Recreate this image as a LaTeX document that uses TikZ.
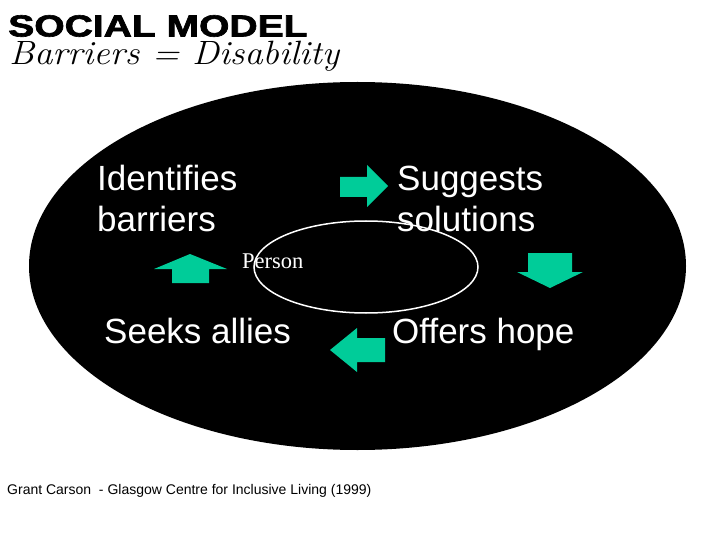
\documentclass[tikz,border=0pt]{standalone}
\usepackage{fontspec}
\setmainfont{Latin Modern Roman}
\newfontfamily\arialf{Liberation Sans}
\newfontfamily\heavyf[FakeBold=2]{Liberation Sans Bold}
\newfontfamily\timesf{Liberation Serif}
\definecolor{arrowgreen}{HTML}{00CC99}
\tikzset{
  lbl/.style={inner sep=0pt, anchor=base west, text=white, font=\arialf\fontsize{35}{40}\selectfont},
  garrow/.style={fill=arrowgreen, draw=none},
}
\begin{document}
\begin{tikzpicture}[x=1pt,y=-1pt]
\useasboundingbox[fill=white] (0,0) rectangle (720,540);
% title
\node[inner sep=0pt, anchor=base west, xscale=1.28, text depth=0pt, font=\heavyf\fontsize{30.5}{32}\selectfont] (title) at (8,36.5) {SOCIAL MODEL};
\node[inner sep=0pt, anchor=base west, xscale=1.08, text height=22pt, font=\itshape\fontsize{33.7}{36}\selectfont] (subtitle) at (9,64.5) {Barriers = Disability};
% big ellipse
\fill[black] (357.5,266) ellipse [x radius=328.5, y radius=184];
% inner ellipse
\draw[white, line width=1.5pt] (366,267) ellipse [x radius=112, y radius=46];
% labels
\node[lbl] (ident1) at (97,191) {Identifies};
\node[lbl] (ident2) at (97,231) {barriers};
\node[lbl] (sugg1) at (397,191) {Suggests};
\node[lbl] (sugg2) at (397,231) {solutions};
\node[lbl] (seeks) at (104,343) {Seeks allies};
\node[lbl] (offers) at (392,343) {Offers hope};
\node[inner sep=0pt, anchor=base west, text=white, font=\timesf\fontsize{22.5}{24}\selectfont] (person) at (242,268) {Person};
% block arrows
\fill[garrow] (340,177) -- (367,177) -- (367,165) -- (388,186) -- (367,207) -- (367,197) -- (340,197) -- cycle;
\fill[garrow] (528,253) -- (572,253) -- (572,272) -- (583,272) -- (550,288) -- (517,272) -- (528,272) -- cycle;
\fill[garrow] (385,338) -- (357,338) -- (357,328) -- (330,350) -- (357,372) -- (357,362) -- (385,362) -- cycle;
\fill[garrow] (172,283) -- (172,269) -- (154,269) -- (190,254) -- (227,269) -- (209,269) -- (209,283) -- cycle;
% footer
\node[inner sep=0pt, anchor=base west, font=\arialf\fontsize{14}{16}\selectfont] (footer) at (7,494) {Grant Carson\ \ - Glasgow Centre for Inclusive Living (1999)};
\end{tikzpicture}
\end{document}
